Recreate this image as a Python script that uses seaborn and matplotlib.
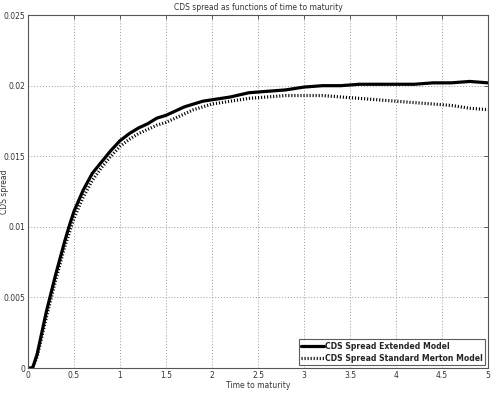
import numpy as np
import pandas as pd
import matplotlib
matplotlib.use('Agg')
import matplotlib.pyplot as plt
import seaborn as sns
from matplotlib.ticker import FuncFormatter

# Time to maturity (years)
maturity = [0, 0.05, 0.1, 0.15, 0.2, 0.25, 0.3, 0.35, 0.4, 0.45, 0.5,
            0.6, 0.7, 0.8, 0.9, 1.0, 1.1, 1.2, 1.3, 1.4, 1.5, 1.6, 1.7,
            1.8, 1.9, 2.0, 2.2, 2.4, 2.6, 2.8, 3.0, 3.2, 3.4, 3.6, 3.8,
            4.0, 4.2, 4.4, 4.6, 4.8, 5.0]

# CDS spreads
extended = [0, 0.0, 0.0010, 0.0025, 0.0040, 0.0053, 0.0066, 0.0078, 0.0090,
            0.0101, 0.0111, 0.0126, 0.0138, 0.0146, 0.0154, 0.0161, 0.0166,
            0.0170, 0.0173, 0.0177, 0.0179, 0.0182, 0.0185, 0.0187, 0.0189,
            0.0190, 0.0192, 0.0195, 0.0196, 0.0197, 0.0199, 0.0200, 0.0200,
            0.0201, 0.0201, 0.0201, 0.0201, 0.0202, 0.0202, 0.0203, 0.0202]
merton = [0, 0.0, 0.0008, 0.0022, 0.0036, 0.0049, 0.0062, 0.0074, 0.0086,
          0.0096, 0.0106, 0.0121, 0.0133, 0.0142, 0.0150, 0.0157, 0.0162,
          0.0166, 0.0169, 0.0172, 0.0174, 0.0177, 0.0180, 0.0183, 0.0185,
          0.0187, 0.0189, 0.0191, 0.0192, 0.0193, 0.0193, 0.0193, 0.0192,
          0.0191, 0.0190, 0.0189, 0.0188, 0.0187, 0.0186, 0.0184, 0.0183]

xticks = [0, 0.5, 1, 1.5, 2, 2.5, 3, 3.5, 4, 4.5, 5]
yticks = [0, 0.005, 0.01, 0.015, 0.02, 0.025]

df = pd.DataFrame({'T': maturity, 'ext': extended, 'mer': merton})

sns.set_style('white')
plt.rcParams['font.family'] = ['DejaVu Sans']

fig = plt.figure(figsize=(4.91, 3.93), dpi=100)
ax = fig.add_axes([0.057, 0.0636, 0.937, 0.898])

sns.lineplot(data=df, x='T', y='ext', ax=ax, color='black', lw=2.3,
             label='CDS Spread Extended Model')
sns.lineplot(data=df, x='T', y='mer', ax=ax, color='black', lw=2.3,
             linestyle=(0, (0.35, 0.6)), label='CDS Spread Standard Merton Model')

ax.set_xlim(0, 5)
ax.set_ylim(0, 0.025)
ax.set_xticks(xticks)
ax.set_yticks(yticks)
ax.xaxis.set_major_formatter(FuncFormatter(lambda v, p: '%g' % v))
ax.yaxis.set_major_formatter(FuncFormatter(lambda v, p: '%g' % v))
ax.grid(True, linestyle=(0, (1, 2)), color='#999999', lw=0.7)
ax.tick_params(direction='in', top=True, right=True, length=3, width=0.6,
               labelsize=5.5, labelcolor='#333333', pad=2, color='#444444')
for s in ax.spines.values():
    s.set_color('#555555')
    s.set_linewidth(0.8)

ax.set_title('CDS spread as functions of time to maturity', fontsize=5.5,
             color='#333333', pad=4)
ax.set_xlabel('Time to maturity', fontsize=5.5, color='#333333', labelpad=1)
ax.set_ylabel('CDS spread', fontsize=5.5, color='#333333')
ax.yaxis.set_label_coords(-0.042, 0.5)

leg = ax.legend(loc='lower right', frameon=True, fancybox=False,
                borderpad=0.3, handlelength=2.6, handletextpad=0.15,
                labelspacing=0.35, borderaxespad=0.3,
                prop={'family': 'DejaVu Sans', 'stretch': 'condensed',
                      'weight': 'bold', 'size': 6.2})
leg.get_frame().set_edgecolor('#333333')
leg.get_frame().set_linewidth(0.8)

plt.savefig('out.png', dpi=100)
plt.close()
